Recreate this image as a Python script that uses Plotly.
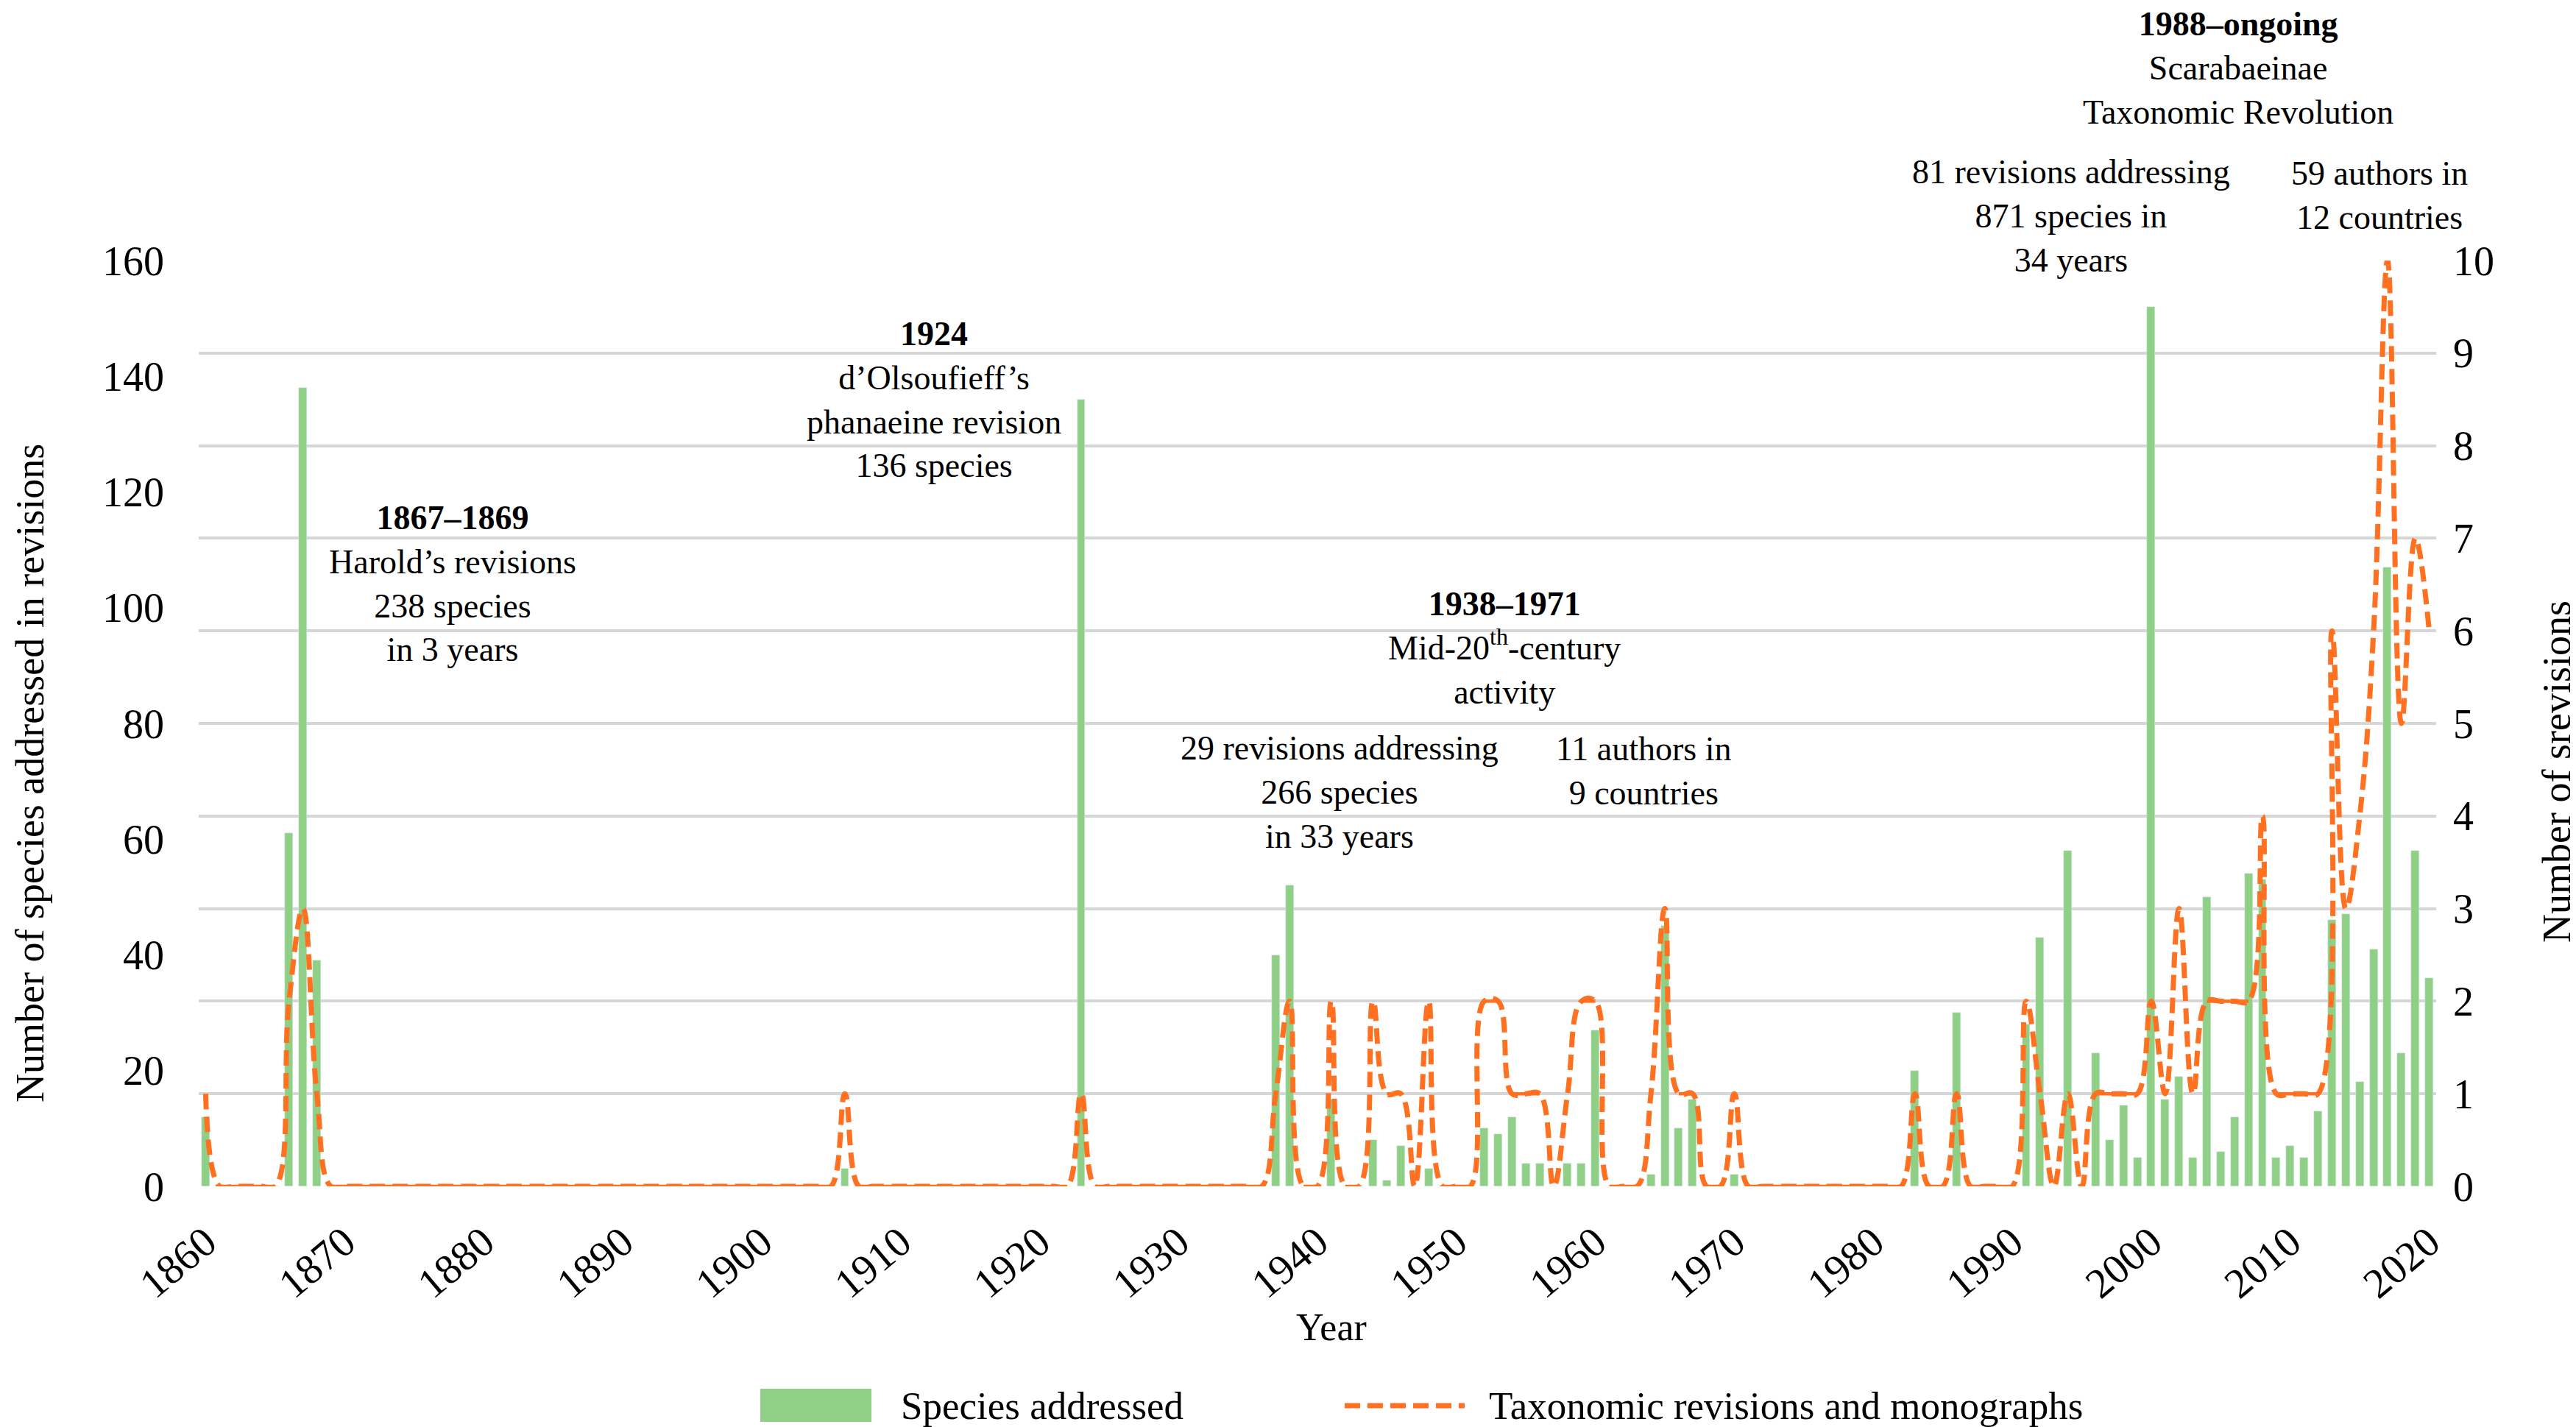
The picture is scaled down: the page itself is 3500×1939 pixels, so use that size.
import plotly.graph_objects as go

# ---- data ----
years = list(range(1860, 2021))

species_years = [1860, 1866, 1867, 1868, 1906, 1923,
                 1937, 1938, 1941, 1944, 1945, 1946, 1948, 1952, 1953, 1954,
                 1955, 1956, 1958, 1959, 1960, 1964, 1965, 1966, 1967, 1970,
                 1983, 1986, 1991, 1992, 1994, 1996, 1997, 1998, 1999, 2000,
                 2001, 2002, 2003, 2004, 2005, 2006, 2007, 2008, 2009, 2010,
                 2011, 2012, 2013, 2014, 2015, 2016, 2017, 2018, 2019, 2020]
species_counts = [12, 61, 138, 39, 3, 136,
                  40, 52, 15, 8, 1, 7, 3, 10, 9, 12,
                  4, 4, 4, 4, 27, 2, 45, 10, 15, 2,
                  20, 30, 28, 43, 58, 23, 8, 14, 5, 152,
                  15, 19, 5, 50, 6, 12, 54, 53, 5, 7,
                  5, 13, 46, 47, 18, 41, 107, 23, 58, 36]

revision_years = [1860, 1866, 1867, 1868, 1906, 1923,
                  1937, 1938, 1941, 1944, 1945, 1946, 1948, 1952, 1953, 1954,
                  1955, 1956, 1958, 1959, 1960, 1964, 1965, 1966, 1967, 1970,
                  1983, 1986, 1991, 1992, 1994, 1996, 1997, 1998, 1999, 2000,
                  2001, 2002, 2003, 2004, 2005, 2006, 2007, 2008, 2009, 2010,
                  2011, 2012, 2013, 2014, 2015, 2016, 2017, 2018, 2019, 2020]
revision_counts = [1, 2, 3, 1, 1, 1,
                   1, 2, 2, 2, 1, 1, 2, 2, 2, 1,
                   1, 1, 1, 2, 2, 1, 3, 1, 1, 1,
                   1, 1, 2, 1, 1, 1, 1, 1, 1, 2,
                   1, 3, 1, 2, 2, 2, 2, 4, 1, 1,
                   1, 1, 6, 3, 4, 6, 10, 5, 7, 6]

year_ticks = list(range(1860, 2021, 10))
left_ticks = list(range(0, 161, 20))
right_ticks = list(range(0, 11))

species_map = dict(zip(species_years, species_counts))
revision_map = dict(zip(revision_years, revision_counts))
species = [species_map.get(y, 0) for y in years]
revisions = [revision_map.get(y, 0) for y in years]

# flat stretches of the line look solid in the original
flat_x, flat_y = [], []
i = 0
while i < len(years) - 1:
    if revisions[i] == revisions[i + 1]:
        j = i
        while j < len(years) - 1 and revisions[j] == revisions[j + 1]:
            j += 1
        flat_x += years[i:j + 1] + [None]
        flat_y += revisions[i:j + 1] + [None]
        i = j
    else:
        i += 1

GREEN = "#8fcf86"
ORANGE = "#ff7021"
FONT = "Liberation Serif"
DASH = "21px,10px"

# plot area in pixels, used to place text
X0, X1, Y0, Y1 = 262, 3302, 346, 1604


def fx(px):
    return (px - X0) / (X1 - X0)


def fy(py):
    return (Y1 - py) / (Y1 - Y0)


fig = go.Figure()
fig.add_trace(go.Bar(x=years, y=species, marker_color=GREEN, width=0.58,
                     name="Species addressed", yaxis="y"))
fig.add_trace(go.Scatter(x=years, y=revisions, mode="lines", yaxis="y2",
                         line=dict(color=ORANGE, width=7, dash=DASH,
                                   shape="spline", smoothing=1.15),
                         name="Taxonomic revisions and monographs"))
fig.add_trace(go.Scatter(x=flat_x, y=flat_y, mode="lines", yaxis="y2",
                         line=dict(color=ORANGE, width=4.5),
                         connectgaps=False, showlegend=False))

notes = [
    ("<b>1867–1869</b><br>Harold’s revisions<br>238 species<br>in 3 years", 607, 785),
    ("<b>1924</b><br>d’Olsoufieff’s<br>phanaeine revision<br>136 species", 1261, 535),
    ("<b>1938–1971</b><br>Mid-20<sup>th</sup>-century<br>activity", 2036, 872),
    ("29 revisions addressing<br>266 species<br>in 33 years", 1812, 1068),
    ("11 authors in<br>9 countries", 2225, 1039),
    ("<b>1988–ongoing</b><br>Scarabaeinae<br>Taxonomic Revolution", 3033, 85),
    ("81 revisions addressing<br>871 species in<br>34 years", 2806, 285),
    ("59 authors in<br>12 countries", 3225, 257),
]
annotations = []
for text, cx, cy in notes:
    annotations.append(dict(text=text, x=fx(cx), y=fy(cy), xref="paper", yref="paper",
                            xanchor="center", yanchor="middle", showarrow=False,
                            font=dict(family=FONT, size=46, color="black")))

# axis titles
annotations.append(dict(text="Number of species addressed in revisions", x=fx(33), y=fy(1043),
                        xref="paper", yref="paper", xanchor="center", yanchor="middle",
                        textangle=-90, showarrow=False,
                        font=dict(family=FONT, size=54, color="black")))
annotations.append(dict(text="Number of srevisions", x=fx(3466), y=fy(1040),
                        xref="paper", yref="paper", xanchor="center", yanchor="middle",
                        textangle=-90, showarrow=False,
                        font=dict(family=FONT, size=54, color="black")))
annotations.append(dict(text="Year", x=fx(1801), y=fy(1795), xref="paper", yref="paper",
                        xanchor="center", yanchor="middle", showarrow=False,
                        font=dict(family=FONT, size=52, color="black")))

# legend drawn by hand so the swatches match the original size
annotations.append(dict(text="Species addressed", x=fx(1214), y=fy(1902), xref="paper",
                        yref="paper", xanchor="left", yanchor="middle", showarrow=False,
                        font=dict(family=FONT, size=53, color="black")))
annotations.append(dict(text="Taxonomic revisions and monographs", x=fx(2013), y=fy(1902),
                        xref="paper", yref="paper", xanchor="left", yanchor="middle",
                        showarrow=False, font=dict(family=FONT, size=53, color="black")))
shapes = [
    dict(type="rect", xref="paper", yref="paper", x0=fx(1025), x1=fx(1176),
         y0=fy(1924), y1=fy(1879), fillcolor=GREEN, line=dict(width=0)),
    dict(type="line", xref="paper", yref="paper", x0=fx(1819), x1=fx(1982),
         y0=fy(1902), y1=fy(1902), line=dict(color=ORANGE, width=7, dash=DASH)),
]

fig.update_layout(
    width=3500, height=1939,
    margin=dict(l=X0, r=3500 - X1, t=Y0, b=1939 - Y1),
    paper_bgcolor="white", plot_bgcolor="white",
    showlegend=False,
    bargap=0,
    font=dict(family=FONT, color="black"),
    xaxis=dict(range=[1859.5, 2020.5], tickvals=year_ticks, tickangle=-40,
               tickfont=dict(family=FONT, size=57), showgrid=False, zeroline=False,
               showline=False, ticks="", ticklabelstandoff=30),
    yaxis=dict(range=[0, 160], tickvals=left_ticks, showgrid=False, zeroline=False,
               tickfont=dict(family=FONT, size=56), ticks="", ticklabelstandoff=46),
    yaxis2=dict(range=[0, 10], tickvals=right_ticks, overlaying="y", side="right",
                showgrid=True, gridcolor="#d6d6d6", gridwidth=4, zeroline=False,
                tickfont=dict(family=FONT, size=56), ticks="", ticklabelstandoff=22),
    annotations=annotations,
    shapes=shapes,
)

fig.write_html("out.html")
